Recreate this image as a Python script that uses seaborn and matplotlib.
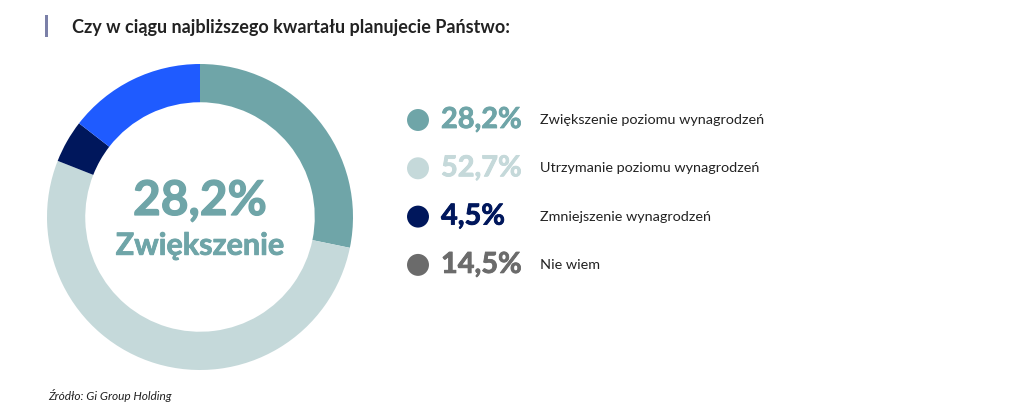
import matplotlib
matplotlib.use("Agg")
import matplotlib.pyplot as plt
import matplotlib.patheffects as pe
import seaborn as sns
import pandas as pd

categories = ["Zwiększenie poziomu wynagrodzeń", "Utrzymanie poziomu wynagrodzeń",
              "Zmniejszenie wynagrodzeń", "Nie wiem"]
values = [28.2, 52.7, 4.5, 14.5]
value_labels = ["28,2%", "52,7%", "4,5%", "14,5%"]
slice_colors = ["#6fa5a8", "#c5d9da", "#00175c", "#1f5bff"]
legend_colors = ["#6fa5a8", "#c5d9da", "#00175c", "#6b6b6b"]
title = "Czy w ciągu najbliższego kwartału planujecie Państwo:"
center_value = "28,2%"
center_label = "Zwiększenie"
source = "Źródło: Gi Group Holding"

sns.set_theme(style="white")
plt.rcParams["font.family"] = ["Lato", "DejaVu Sans"]

W, H = 1024, 418
fig = plt.figure(figsize=(W / 100, H / 100), dpi=100)
fig.patch.set_facecolor("white")


def heavy(color, lw):
    return [pe.withStroke(linewidth=lw, foreground=color)]


# Donut
cx, cy, half = 200, 217, 160
ax = fig.add_axes([(cx - half) / W, (H - cy - half) / H, 2 * half / W, 2 * half / H])
R = 153 / half
ax.pie(values, colors=slice_colors, startangle=90, counterclock=False, radius=R,
       wedgeprops=dict(width=R * 0.25, edgecolor="none"))
ax.set_xlim(-1, 1)
ax.set_ylim(-1, 1)
ax.set_aspect("equal")
ax.axis("off")
ax.text(0, 0.1, center_value, ha="center", va="center", fontsize=34.5, fontweight="bold",
        color=slice_colors[0], path_effects=heavy(slice_colors[0], 0.9))
ax.text(0, -0.18, center_label, ha="center", va="center", fontsize=22, fontweight="bold",
        color=slice_colors[0], path_effects=heavy(slice_colors[0], 0.6))

# Legend
step = 48.3
top = 120 - step / 2
lax = fig.add_axes([400 / W, (H - (top + 4 * step)) / H, 400 / W, 4 * step / H])
df = pd.DataFrame({"x": [18] * 4, "y": list(range(4)), "cat": categories})
sns.scatterplot(data=df, x="x", y="y", hue="cat", palette=legend_colors, s=250,
                edgecolor="none", legend=False, ax=lax)
lax.set_xlim(0, 400)
lax.set_ylim(3.5, -0.5)
lax.axis("off")
for i, (vl, cat) in enumerate(zip(value_labels, categories)):
    lax.text(41, i, vl, ha="left", va="center", fontsize=20.8, fontweight="bold",
             color=legend_colors[i], path_effects=heavy(legend_colors[i], 0.6))
    lax.text(140, i, cat, ha="left", va="center", fontsize=10.4, color="#222222")

# Title
fig.patches.append(plt.Rectangle((45 / W, 1 - 37 / H), 3 / W, 22 / H, transform=fig.transFigure,
                                 facecolor="#7b80a8", edgecolor="none"))
fig.text(72 / W, 1 - 27 / H, title, ha="left", va="center", fontsize=13,
         fontweight="bold", color="#222222")

fig.text(48 / W, 1 - 396 / H, source, ha="left", va="center", fontsize=8.6,
         style="italic", color="#222222")

fig.savefig("out.png", dpi=100, facecolor="white")
